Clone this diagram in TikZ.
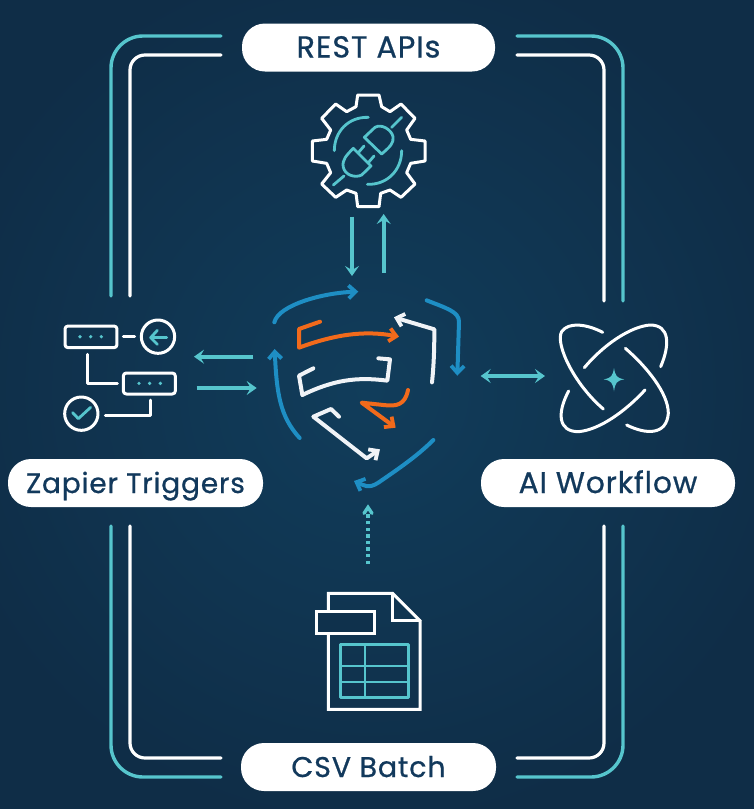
\documentclass[tikz,border=0pt]{standalone}
\usepackage{fontspec}
\newfontfamily\pillfont[LetterSpace=3,FakeBold=0.7]{Poppins}
\usetikzlibrary{arrows.meta}
\definecolor{bgout}{HTML}{0F2D47}
\definecolor{bgin}{HTML}{113D5B}
\definecolor{teal}{HTML}{56C5CD}
\definecolor{azure}{HTML}{1E8EC4}
\definecolor{flame}{HTML}{F26A1B}
\definecolor{ink}{HTML}{12395C}
\definecolor{snow}{HTML}{F0F3F7}
\pgfdeclareradialshading{glow}{\pgfpoint{0bp}{0bp}}{color(0bp)=(bgin);color(9bp)=(bgin!60!bgout);color(22bp)=(bgout);color(100bp)=(bgout)}
\tikzset{
  pill/.style={fill=white,rounded corners=23pt,text=ink,font=\pillfont\fontsize{28}{30}\selectfont,inner sep=0pt,align=center,minimum height=48pt,text height=20pt,text depth=0pt},
  tealrail/.style={draw=teal,line width=3.4pt,line cap=round,rounded corners=32pt},
  whiterail/.style={draw=white,line width=3.2pt,line cap=round,rounded corners=15pt},
  wline/.style={draw=white,line width=3pt,line cap=round,line join=round},
  tline/.style={draw=teal,line width=2.8pt,line cap=round,line join=round},
  thead/.style={-{Stealth[length=10pt,width=14pt,inset=4pt]}},
  tarrow/.style={draw=teal,line width=3.8pt,thead},
  flow/.style={line width=4pt,line cap=round,line join=round,-{Straight Barb[length=7pt,width=13pt,line width=3.8pt]}},
  blueflow/.style={flow,draw=azure},
  whiteflow/.style={flow,draw=snow},
  orangeflow/.style={flow,draw=flame},
  zoomed/.style 2 args={shift={(#1,#2)},x=0.33333pt,y=-0.33333pt},
}
\begin{document}
\begin{tikzpicture}[x=1pt,y=-1pt]
\useasboundingbox (0,0) rectangle (753,809);
\shade[shading=glow] (-130,-110) rectangle (870,890);
% rails
\path[tealrail] (221,36) -- (111,36) -- (111,296);
\path[whiterail] (221,55) -- (130,55) -- (130,296);
\path[tealrail] (517,36) -- (623,36) -- (623,301);
\path[whiterail] (517,55) -- (604,55) -- (604,301);
\path[tealrail] (111,526) -- (111,777) -- (221,777);
\path[whiterail] (130,526) -- (130,758) -- (221,758);
\path[tealrail] (623,526) -- (623,777) -- (517,777);
\path[whiterail] (604,526) -- (604,758) -- (517,758);
% pills
\node[pill,minimum width=253pt,font=\pillfont\fontsize{30.3}{30}\selectfont] (rest) at (368.5,47.5) {REST APIs};
\node[pill,minimum width=255pt] (zap) at (135.5,483) {Zapier Triggers};
\node[pill,minimum width=254pt,font=\pillfont\fontsize{29.8}{30}\selectfont] (ai) at (608,483) {AI Workflow};
\node[pill,minimum width=255pt,font=\pillfont\fontsize{28.5}{30}\selectfont] (csv) at (368.5,767) {CSV Batch};
% gear
\begin{scope}[zoomed={290}{80}]
\draw[wline] (203,45)--(267,45)--(275,80)--(300,95)--(333,72)--(375,115)--(350,150)--(362,178)--(405,183)--(405,243)--(362,250)--(350,278)--(375,312)--(333,352)--(300,330)--(272,340)--(267,380)--(203,380)--(198,340)--(170,330)--(137,352)--(95,312)--(122,278)--(110,250)--(67,243)--(67,183)--(110,178)--(122,150)--(95,115)--(137,72)--(170,95)--(198,80)--cycle;
\draw[tline] (235,112) .. controls (175,110) and (133,155) .. (133,212);
\draw[tline] (335,212) .. controls (335,270) and (292,315) .. (232,313);
\draw[tline] (335,112) -- (305,142);
\draw[tline] (223,172) -- (255,142) .. controls (275,130) and (305,150) .. (309,170) .. controls (312,190) and (300,200) .. (275,222) -- cycle;
\draw[tline] (190,205) -- (243,258) -- (215,285) .. controls (195,295) and (165,285) .. (160,262) .. controls (155,240) and (170,225) .. (190,205) -- cycle;
\draw[tline] (205,218) -- (222,198);
\draw[tline] (235,248) -- (252,228);
\draw[tline] (162,288) -- (130,315);
\draw[tarrow] (186,410) -- (186,588);
\draw[tarrow] (281,578) -- (281,402);
\end{scope}
% left icon
\begin{scope}[zoomed={40}{300}]
\draw[wline,rounded corners=3pt] (75,78) rectangle (231,143);
\draw[wline,rounded corners=3pt] (250,219) rectangle (406,282);
\draw[wline] (250,110) -- (284,110);
\draw[wline] (354,110) circle[radius=50];
\draw[wline] (124,341) circle[radius=50];
\draw[wline] (143,163) -- (143,249) -- (232,249);
\draw[wline] (331,300) -- (331,346) -- (196,346);
\foreach \p in {(120,110),(152,110),(184,110),(297,250),(329,250),(361,250)}
  \fill[teal] \p circle[radius=5.5];
\draw[tline] (380,113) -- (332,113);
\draw[tline] (352,91) -- (332,113) -- (352,133);
\draw[tline] (98,338) -- (115,356) -- (152,322);
\draw[tarrow] (640,170) -- (462,170);
\draw[tarrow] (470,264) -- (650,264);
\end{scope}
% right icon
\begin{scope}[zoomed={470}{300}]
\draw[wline] (398,97) .. controls (350,72) and (295,65) .. (275,95) .. controls (255,130) and (310,250) .. (400,327);
\draw[wline] (343,203) .. controls (400,135) and (480,80) .. (540,75) .. controls (600,75) and (600,135) .. (572,200);
\draw[wline] (466,145) .. controls (530,200) and (595,280) .. (595,340) .. controls (590,405) and (530,405) .. (470,375);
\draw[wline] (525,270) .. controls (470,330) and (390,390) .. (325,395) .. controls (265,395) and (260,340) .. (296,273);
\fill[teal] (432,204) .. controls (436,228) and (440,234) .. (463,238) .. controls (440,242) and (436,248) .. (432,274) .. controls (428,248) and (424,242) .. (401,238) .. controls (424,234) and (428,228) .. (432,204) -- cycle;
\draw[draw=teal,line width=3.8pt,{Stealth[length=10pt,width=14pt,inset=4pt]}-{Stealth[length=10pt,width=14pt,inset=4pt]}] (32,228) -- (225,228);
\end{scope}
% csv icon
\begin{scope}[zoomed={300}{500}]
\draw[wline,line cap=butt,line join=miter] (85,280) -- (278,280) -- (360,362) -- (360,628) -- (85,628) -- cycle;
\draw[wline,line join=miter] (278,280) -- (278,362) -- (360,362);
\draw[wline,fill=bgin!25!bgout,line join=miter] (48,335) rectangle (224,400);
\draw[tline] (122,434) rectangle (325,592);
\draw[tline] (195,434) -- (195,592);
\draw[tline] (122,498) -- (325,498);
\draw[tline] (122,546) -- (325,546);
\draw[draw=teal,line width=3.6pt,dash pattern=on 3.4pt off 3.2pt] (204,192) -- (204,40);
\draw[draw=teal,line width=3.4pt,line cap=round] (192,40) -- (204,22) -- (216,40);
\end{scope}
% shield
\begin{scope}[zoomed={250}{280}]
\draw[blueflow] (73,127) .. controls (85,75) and (220,38) .. (325,35);
\draw[blueflow] (149,474) .. controls (90,410) and (80,340) .. (74,207);
\draw[blueflow] (530,61) .. controls (590,85) and (627,95) .. (627,125) -- (622,287);
\draw[blueflow] (550,480) .. controls (500,530) and (440,570) .. (385,608) .. controls (355,628) and (340,615) .. (312,603);
\draw[orangeflow] (210,125) -- (147,147) -- (147,203) .. controls (250,165) and (340,150) .. (447,170);
\draw[whiteflow] (546,307) .. controls (552,250) and (553,200) .. (553,148) -- (432,112);
\draw[whiteflow,-] (190,265) -- (147,287) -- (157,345) .. controls (250,300) and (320,290) .. (412,302) -- (420,238) -- (385,235);
\draw[orangeflow] (474,330) .. controls (465,375) and (440,380) .. (400,375) -- (335,368) -- (437,443);
\draw[whiteflow] (267,410) -- (243,387) -- (190,410) -- (350,535) -- (390,508);
\end{scope}
\end{tikzpicture}
\end{document}
